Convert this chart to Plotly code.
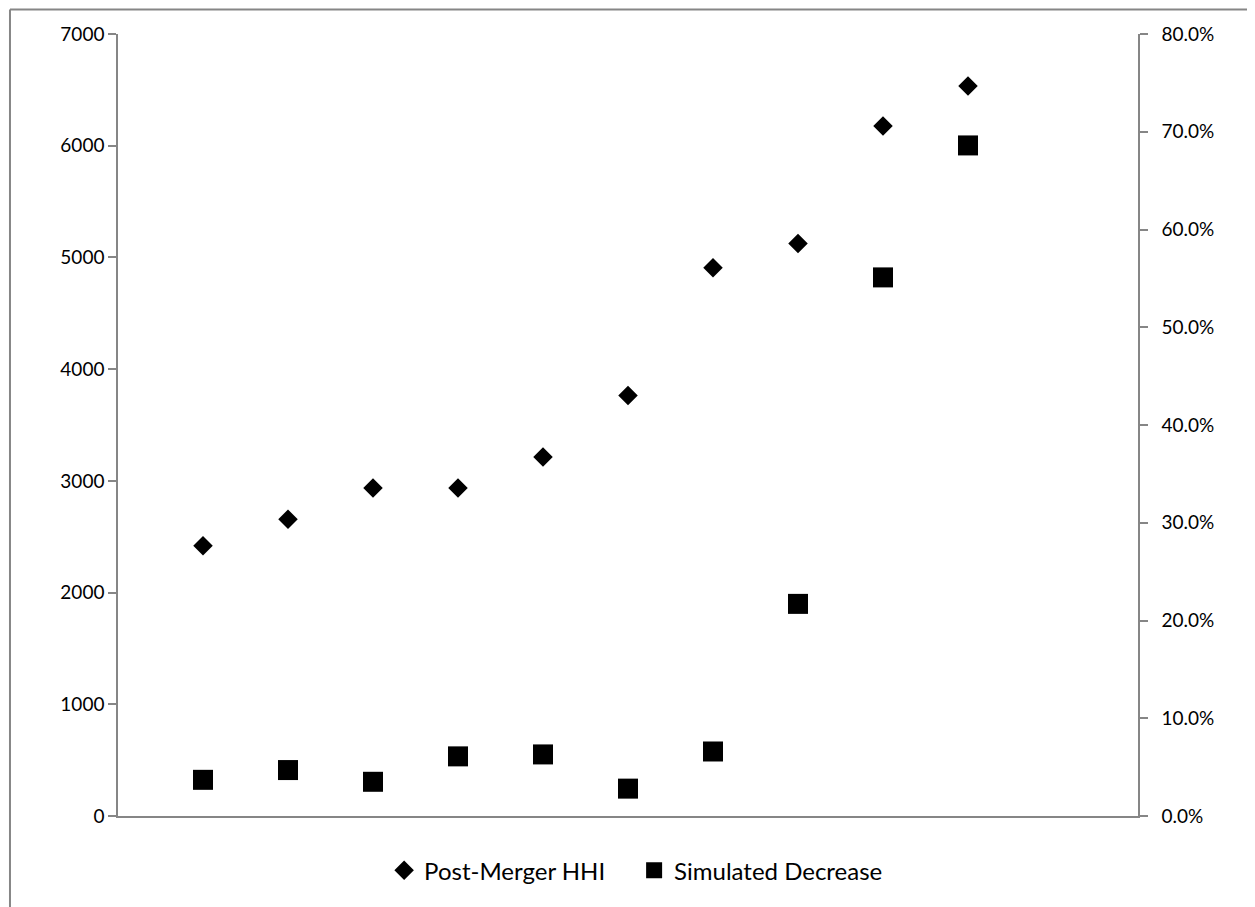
import plotly.graph_objects as go

markets = [1, 2, 3, 4, 5, 6, 7, 8, 9, 10]
post_merger_hhi = [2418, 2657, 2937, 2937, 3214, 3764, 4908, 5125, 6177, 6535]
simulated_decrease = [0.037, 0.047, 0.035, 0.061, 0.063, 0.028, 0.066, 0.217, 0.551, 0.686]

left_ticks = [0, 1000, 2000, 3000, 4000, 5000, 6000, 7000]
right_ticks = [0, 0.1, 0.2, 0.3, 0.4, 0.5, 0.6, 0.7, 0.8]

FONT = "Lato"
GRAY = "#868686"

fig = go.Figure()
fig.add_trace(go.Scatter(
    x=markets, y=post_merger_hhi, mode="markers", name="Post-Merger HHI",
    marker=dict(symbol="diamond", size=15, color="black", line=dict(width=0)),
    yaxis="y"))
fig.add_trace(go.Scatter(
    x=markets, y=simulated_decrease, mode="markers", name="Simulated Decrease",
    marker=dict(symbol="square", size=20, color="black", line=dict(width=0)),
    yaxis="y2"))

fig.update_layout(
    width=1247, height=899,
    margin=dict(l=110, r=117, t=25.5, b=91),
    paper_bgcolor="white", plot_bgcolor="white",
    font=dict(family=FONT, size=19, color="black"),
    showlegend=True,
    legend=dict(orientation="h", x=0.506, xanchor="center", y=-0.07, yanchor="middle",
                font=dict(size=24), itemwidth=30, tracegroupgap=0, entrywidth=205),
    xaxis=dict(range=[0, 12], showticklabels=False, ticks="", showgrid=False,
               zeroline=False, showline=True, linecolor=GRAY, linewidth=1.5),
    yaxis=dict(range=[0, 7000], tickvals=left_ticks, ticktext=[str(v) for v in left_ticks],
               showgrid=False, zeroline=False, showline=True, linecolor=GRAY, linewidth=1.5,
               ticks="outside", ticklen=8, tickcolor=GRAY, tickwidth=1.5,
               ticklabelstandoff=0),
    yaxis2=dict(range=[0, 0.8], tickvals=right_ticks,
                ticktext=[f"{v*100:.1f}%" for v in right_ticks],
                overlaying="y", side="right", showgrid=False, zeroline=False,
                showline=True, linecolor=GRAY, linewidth=1.5,
                ticks="outside", ticklen=8, tickcolor=GRAY, tickwidth=1.5,
                ticklabelstandoff=10),
)

# outer chart frame (left and top edges visible)
fig.add_shape(type="line", xref="paper", yref="paper",
              x0=-0.1059, x1=-0.1059, y0=-0.2, y1=1.0313,
              line=dict(color=GRAY, width=2))
fig.add_shape(type="line", xref="paper", yref="paper",
              x0=-0.1059, x1=1.2, y0=1.0313, y1=1.0313,
              line=dict(color=GRAY, width=2))

fig.write_html("out.html")
